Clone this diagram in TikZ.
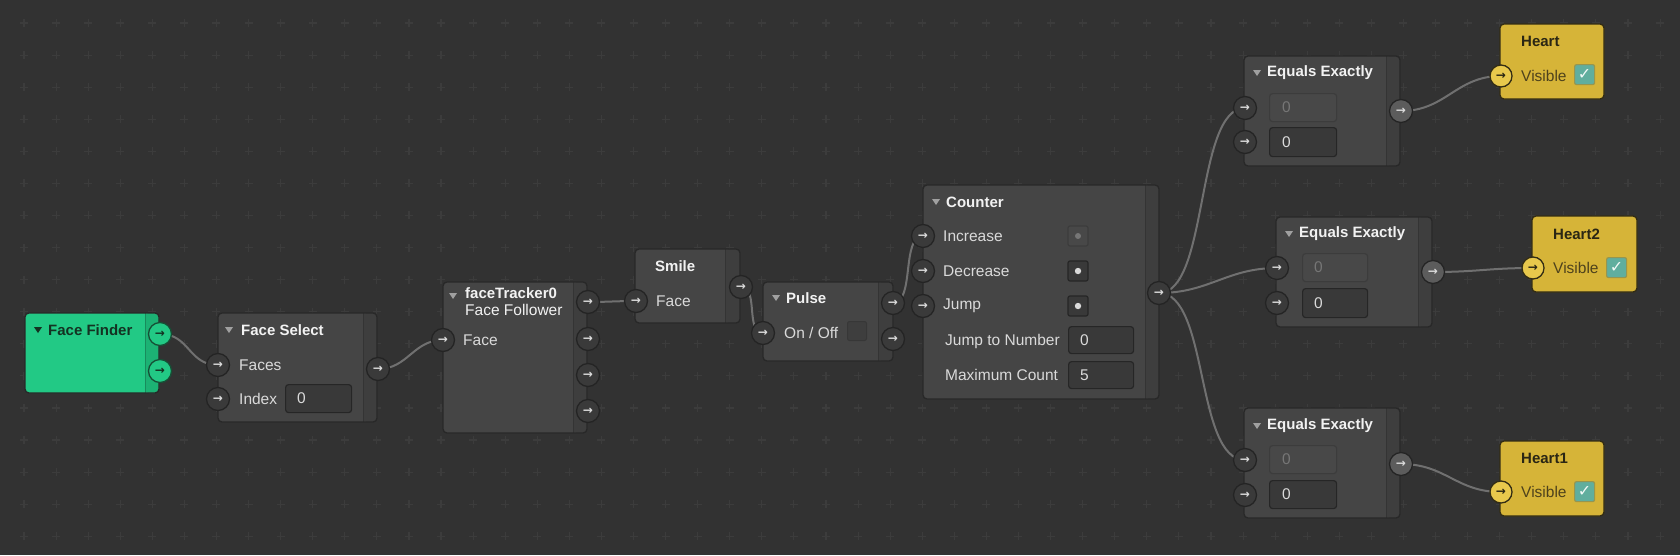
\documentclass[tikz,border=0pt]{standalone}
\usepackage{fontspec}
\setmainfont{Liberation Sans}
\newfontfamily\djv{DejaVu Sans}
\definecolor{bgc}{RGB}{50,50,50}
\definecolor{gridc}{RGB}{60,60,60}
\definecolor{bodyc}{RGB}{69,69,69}
\definecolor{stripc}{RGB}{62,62,62}
\definecolor{striplinec}{RGB}{52,52,52}
\definecolor{borderc}{RGB}{40,40,40}
\definecolor{greenc}{RGB}{34,201,133}
\definecolor{greenstrip}{RGB}{28,178,116}
\definecolor{greenline}{RGB}{24,140,92}
\definecolor{greenborder}{RGB}{22,80,54}
\definecolor{greentext}{RGB}{20,50,34}
\definecolor{yellowc}{RGB}{214,180,56}
\definecolor{yellowport}{RGB}{232,200,76}
\definecolor{yellowborder}{RGB}{50,44,20}
\definecolor{yellowtext}{RGB}{42,38,20}
\definecolor{visc}{RGB}{78,66,28}
\definecolor{tealc}{RGB}{96,174,158}
\definecolor{tealborder}{RGB}{150,150,80}
\definecolor{portc}{RGB}{58,58,58}
\definecolor{portlight}{RGB}{92,92,92}
\definecolor{portborder}{RGB}{36,36,36}
\definecolor{wirec}{RGB}{112,112,112}
\definecolor{titlec}{RGB}{242,242,242}
\definecolor{labelc}{RGB}{218,218,218}
\definecolor{fieldc}{RGB}{57,57,57}
\definecolor{fieldborder}{RGB}{38,38,38}
\definecolor{dimfield}{RGB}{72,72,72}
\definecolor{dimfieldborder}{RGB}{60,60,60}
\definecolor{dimtext}{RGB}{118,118,118}
\definecolor{tric}{RGB}{160,160,160}
\pgfdeclarelayer{gridlayer}
\pgfdeclarelayer{wirelayer}
\pgfsetlayers{gridlayer,wirelayer,main}
\newcommand\mkpanel[9]{%
  \pgfmathsetmacro\pw{#4-#2}\pgfmathsetmacro\ph{#5-#3}%
  \node[inner sep=0pt, outer sep=0pt, fill=#7, rounded corners=4pt, anchor=north west,
        minimum width=\pw pt, minimum height=\ph pt] (#1) at (#2,#3) {};
  \fill[#8, rounded corners=4pt] (#6,#3) rectangle (#4,#5);
  \fill[#8] (#6,{#3+0.6}) rectangle ({#6+6},{#5-0.6});
  \draw[#9, line width=1pt] (#6,#3) -- (#6,#5);
  \draw[borderc, line width=1.3pt, rounded corners=4pt] (#1.north west) rectangle (#1.south east);
}
\newcommand\mkplain[8]{%
  \pgfmathsetmacro\pw{#4-#2}\pgfmathsetmacro\ph{#5-#3}%
  \node[inner sep=0pt, outer sep=0pt, fill=#6, draw=#7, line width=1.3pt, rounded corners=4pt, anchor=north west,
        minimum width=\pw pt, minimum height=\ph pt] (#1) at (#2,#3) {};
}
\newcommand\tri[3]{\fill[#3] (#1,{#2-3}) -- ({#1+8},{#2-3}) -- ({#1+4},{#2+3}) -- cycle;}
\tikzset{
  port/.style={circle, minimum size=23pt, inner sep=0pt, fill=portc, draw=portborder, line width=1.3pt,
    text=labelc, font=\djv\bfseries\fontsize{12}{12}\selectfont},
  lport/.style={port, fill=portlight},
  gport/.style={port, fill=greenc, draw=greenborder, text=greentext},
  yport/.style={port, minimum size=22pt, fill=yellowport, draw=yellowborder, text=yellowtext},
  wire/.style={draw=wirec, line width=2pt},
  title/.style={anchor=west, inner sep=0pt, text=titlec, font=\bfseries\fontsize{15}{17}\selectfont},
  lbl/.style={anchor=west, inner sep=0pt, text=labelc, font=\fontsize{15.5}{17}\selectfont},
  field/.style={anchor=north west, inner sep=0pt, fill=fieldc, draw=fieldborder, line width=1.2pt, rounded corners=3pt},
  dfield/.style={field, fill=dimfield, draw=dimfieldborder},
  val/.style={lbl},
  dval/.style={lbl, text=dimtext},
  dotbox/.style={anchor=center, inner sep=0pt, minimum size=20pt, fill=fieldc, draw=fieldborder, line width=1.2pt, rounded corners=2pt},
  check/.style={anchor=north west, inner sep=0pt, fill=tealc, draw=tealborder, line width=1.2pt, rounded corners=2pt,
    text=white!92!tealc, font=\djv\fontsize{16}{16}\selectfont},
  ytitle/.style={title, text=yellowtext},
  ylbl/.style={lbl, text=visc},
}
\begin{document}
\begin{tikzpicture}[x=1pt,y=-1pt]
\useasboundingbox (0,0) rectangle (1680,555);
\begin{pgfonlayer}{gridlayer}
\fill[bgc] (0,0) rectangle (1680,555);
\foreach \i in {0,...,52}{
  \foreach \j in {0,...,17}{
    \pgfmathsetmacro\gx{24+32.08*\i}\pgfmathsetmacro\gy{23+32.08*\j}
    \draw[gridc, line width=1.1pt] ({\gx-4},\gy) -- ({\gx+4},\gy) (\gx,{\gy-4}) -- (\gx,{\gy+4});
  }
}
\end{pgfonlayer}

% ---- Face Finder
\mkpanel{ff}{25}{313}{159}{393}{145}{greenc}{greenstrip}{greenline}
\tri{34}{330}{greentext}
\node[title, text=greentext] (fft) at (48,330) {Face Finder};
\node[gport] (ffo1) at (160,334) {→};
\node[gport] (ffo2) at (160,371) {→};

% ---- Face Select
\mkpanel{fs}{218}{313}{377}{422}{363}{bodyc}{stripc}{striplinec}
\tri{225}{330}{tric}
\node[title] (fst) at (241,330) {Face Select};
\node[lbl] (fsl1) at (239,365) {Faces};
\node[lbl] (fsl2) at (239,399) {Index};
\node[field, minimum width=66pt, minimum height=28pt] (fsf) at (285,384) {};
\node[val] (fsv) at (297,398) {0};
\node[port] (fsi1) at (218,365) {→};
\node[port] (fsi2) at (218,399) {→};
\node[port] (fso) at (378,369) {→};

% ---- faceTracker0
\mkpanel{ft}{443}{282}{587}{433}{573}{bodyc}{stripc}{striplinec}
\tri{449}{296}{tric}
\node[title] (ftt) at (465,293) {faceTracker0};
\node[lbl, text=titlec] (fts) at (465,310) {Face Follower};
\node[lbl] (ftl) at (463,340) {Face};
\node[port] (fti) at (443,340) {→};
\node[port] (fto1) at (588,302) {→};
\node[port] (fto2) at (588,339) {→};
\node[port] (fto3) at (588,375) {→};
\node[port] (fto4) at (588,411) {→};

% ---- Smile
\mkpanel{sm}{635}{249}{740}{323}{725}{bodyc}{stripc}{striplinec}
\node[title] (smt) at (655,266) {Smile};
\node[lbl] (sml) at (656,301) {Face};
\node[port] (smi) at (636,301) {→};
\node[port] (smo) at (741,287) {→};

% ---- Pulse
\mkpanel{pu}{763}{282}{893}{361}{878}{bodyc}{stripc}{striplinec}
\tri{772}{298}{tric}
\node[title] (put) at (786,298) {Pulse};
\node[lbl] (pul) at (784,333) {On / Off};
\node[anchor=north west, inner sep=0pt, minimum size=19pt, fill=stripc, draw=bodyc!80!black, line width=1pt, rounded corners=2pt] (pucb) at (847,321) {};
\node[port] (pui) at (763,333) {→};
\node[port] (puo1) at (893,303) {→};
\node[port] (puo2) at (893,339) {→};

% ---- Counter
\mkpanel{ct}{923}{185}{1159}{399}{1145}{bodyc}{stripc}{striplinec}
\tri{932}{202}{tric}
\node[title] (ctt) at (946,202) {Counter};
\node[lbl] (ctl1) at (943,236) {Increase};
\node[lbl] (ctl2) at (943,271) {Decrease};
\node[lbl] (ctl3) at (943,306) {Jump};
\node[dotbox, fill=dimfield, draw=dimfieldborder] (ctd1) at (1078,236) {};
\fill[dimtext] (ctd1.center) circle (3pt);
\node[dotbox] (ctd2) at (1078,271) {};
\fill[labelc] (ctd2.center) circle (3.2pt);
\node[dotbox] (ctd3) at (1078,306) {};
\fill[labelc] (ctd3.center) circle (3.2pt);
\node[lbl] (ctl4) at (945,341) {Jump to Number};
\node[field, minimum width=65pt, minimum height=27pt] (ctf1) at (1068,326) {};
\node[val] (ctv1) at (1080,340) {0};
\node[lbl] (ctl5) at (945,375) {Maximum Count};
\node[field, minimum width=65pt, minimum height=27pt] (ctf2) at (1068,361) {};
\node[val] (ctv2) at (1080,375) {5};
\node[port] (cti1) at (923,236) {→};
\node[port] (cti2) at (923,271) {→};
\node[port] (cti3) at (923,306) {→};
\node[port] (cto) at (1159,293) {→};

% ---- Equals Exactly 1
\mkpanel{e1}{1244}{56}{1400}{166}{1386}{bodyc}{stripc}{striplinec}
\tri{1253}{73}{tric}
\node[title] (e1t) at (1267,73) {Equals Exactly};
\node[dfield, minimum width=67pt, minimum height=28pt] (e1f1) at (1269,93) {};
\node[dval] (e1v1) at (1282,107) {0};
\node[field, minimum width=67pt, minimum height=29pt] (e1f2) at (1269,127) {};
\node[val] (e1v2) at (1282,142) {0};
\node[port] (e1i1) at (1245,108) {→};
\node[port] (e1i2) at (1245,142) {→};
\node[lport] (e1o) at (1401,111) {→};

% ---- Heart
\mkplain{h0}{1500}{24}{1604}{99}{yellowc}{yellowborder}{}
\node[ytitle] (h0t) at (1521,41) {Heart};
\node[ylbl] (h0l) at (1521,76) {Visible};
\node[check, minimum size=20pt] (h0c) at (1574,64) {✓};
\node[yport] (h0i) at (1501,76) {→};

% ---- Equals Exactly 2
\mkpanel{e2}{1276}{217}{1432}{327}{1418}{bodyc}{stripc}{striplinec}
\tri{1285}{234}{tric}
\node[title] (e2t) at (1299,234) {Equals Exactly};
\node[dfield, minimum width=65pt, minimum height=28pt] (e2f1) at (1302,253) {};
\node[dval] (e2v1) at (1314,267) {0};
\node[field, minimum width=65pt, minimum height=29pt] (e2f2) at (1302,288) {};
\node[val] (e2v2) at (1314,303) {0};
\node[port] (e2i1) at (1277,268) {→};
\node[port] (e2i2) at (1277,303) {→};
\node[lport] (e2o) at (1433,272) {→};

% ---- Heart2
\mkplain{h2}{1532}{216}{1637}{292}{yellowc}{yellowborder}{}
\node[ytitle] (h2t) at (1553,234) {Heart2};
\node[ylbl] (h2l) at (1553,268) {Visible};
\node[check, minimum size=20pt] (h2c) at (1606,257) {✓};
\node[yport] (h2i) at (1533,268) {→};

% ---- Equals Exactly 3
\mkpanel{e3}{1244}{408}{1400}{518}{1386}{bodyc}{stripc}{striplinec}
\tri{1253}{426}{tric}
\node[title] (e3t) at (1267,426) {Equals Exactly};
\node[dfield, minimum width=67pt, minimum height=28pt] (e3f1) at (1269,445) {};
\node[dval] (e3v1) at (1282,459) {0};
\node[field, minimum width=67pt, minimum height=28pt] (e3f2) at (1269,480) {};
\node[val] (e3v2) at (1282,494) {0};
\node[port] (e3i1) at (1245,460) {→};
\node[port] (e3i2) at (1245,495) {→};
\node[lport] (e3o) at (1401,464) {→};

% ---- Heart1
\mkplain{h1}{1500}{441}{1604}{516}{yellowc}{yellowborder}{}
\node[ytitle] (h1t) at (1521,458) {Heart1};
\node[ylbl] (h1l) at (1521,492) {Visible};
\node[check, minimum size=20pt] (h1c) at (1574,481) {✓};
\node[yport] (h1i) at (1501,492) {→};

% ---- wires
\begin{pgfonlayer}{wirelayer}
\draw[wire] (ffo1.center) .. controls +(30,0) and +(-30,0) .. (fsi1.center);
\draw[wire] (fso.center) .. controls +(30,0) and +(-30,0) .. (fti.center);
\draw[wire] (fto1.center) .. controls +(20,0) and +(-20,0) .. (smi.center);
\draw[wire] (smo.center) .. controls +(18,0) and +(-18,0) .. (pui.center);
\draw[wire] (puo1.center) .. controls +(22,0) and +(-22,0) .. (cti1.center);
\draw[wire] (cto.center) .. controls +(50,0) and +(-50,0) .. (e1i1.center);
\draw[wire] (cto.center) .. controls +(50,0) and +(-50,0) .. (e2i1.center);
\draw[wire] (cto.center) .. controls +(50,0) and +(-50,0) .. (e3i1.center);
\draw[wire] (e1o.center) .. controls +(45,0) and +(-45,0) .. (h0i.center);
\draw[wire] (e2o.center) .. controls +(45,0) and +(-45,0) .. (h2i.center);
\draw[wire] (e3o.center) .. controls +(45,0) and +(-45,0) .. (h1i.center);
\end{pgfonlayer}
\end{tikzpicture}
\end{document}
